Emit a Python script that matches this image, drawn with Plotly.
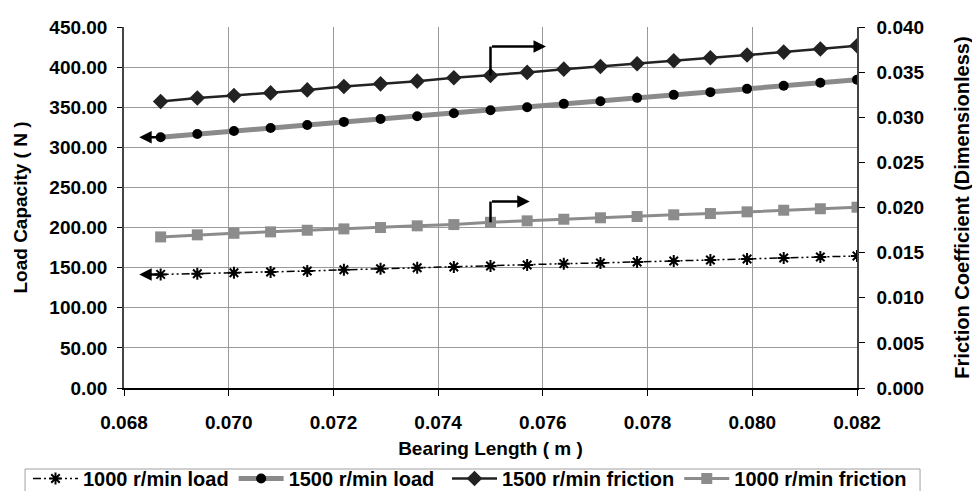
import plotly.graph_objects as go

# ---- data ----
bearing_length = [0.0687, 0.0694, 0.0701, 0.0708, 0.0715, 0.0722, 0.0729, 0.0736, 0.0743, 0.0750,
                  0.0757, 0.0764, 0.0771, 0.0778, 0.0785, 0.0792, 0.0799, 0.0806, 0.0813, 0.0820]
load_1000 = [141.6, 142.5, 143.7, 144.6, 145.8, 147.3, 148.7, 150.0, 150.8, 152.1,
             153.4, 155.0, 155.9, 157.1, 158.4, 159.6, 160.9, 162.1, 163.4, 164.6]
load_1500 = [312.5, 316.7, 320.4, 324.2, 327.9, 331.7, 335.4, 338.8, 342.5, 346.3,
             350.0, 354.2, 357.5, 361.7, 365.4, 368.8, 372.9, 376.7, 380.4, 384.2]
friction_1500 = [0.03174, 0.03214, 0.03241, 0.03270, 0.03303, 0.03341, 0.03370, 0.03400, 0.03437, 0.03463,
                 0.03497, 0.03533, 0.03563, 0.03592, 0.03626, 0.03659, 0.03689, 0.03722, 0.03756, 0.03792]
friction_1000 = [0.01674, 0.01697, 0.01714, 0.01730, 0.01748, 0.01763, 0.01778, 0.01797, 0.01811, 0.01836,
                 0.01852, 0.01870, 0.01886, 0.01900, 0.01919, 0.01933, 0.01952, 0.01970, 0.01986, 0.02003]

series_names = ["1000 r/min load", "1500 r/min load", "1500 r/min friction", "1000 r/min friction"]
x_title = "Bearing Length ( m )"
y_title = "Load Capacity ( N )"
y2_title = "Friction Coefficient (Dimensionless)"

FONT = "Liberation Sans, Arial, sans-serif"

fig = go.Figure()
fig.add_trace(go.Scatter(
    x=bearing_length, y=load_1000, name=series_names[0], mode="lines+markers",
    line=dict(color="black", width=1.5, dash="8px,3px,2px,3px,2px,3px"),
    marker=dict(symbol="asterisk-open", size=10, color="black", line=dict(color="black", width=2)),
    yaxis="y", legend="legend"))
fig.add_trace(go.Scatter(
    x=bearing_length, y=load_1500, name=series_names[1], mode="lines+markers",
    line=dict(color="#8a8a8a", width=5),
    marker=dict(symbol="circle", size=10, color="black"),
    yaxis="y", legend="legend"))
fig.add_trace(go.Scatter(
    x=bearing_length, y=friction_1500, name=series_names[2], mode="lines+markers",
    line=dict(color="#222222", width=2.5),
    marker=dict(symbol="diamond", size=12, color="#222222"),
    yaxis="y2", legend="legend2"))
fig.add_trace(go.Scatter(
    x=bearing_length, y=friction_1000, name=series_names[3], mode="lines+markers",
    line=dict(color="#8c8c8c", width=3),
    marker=dict(symbol="square", size=11, color="#8c8c8c"),
    yaxis="y2", legend="legend2"))

# ---- indicator arrows (anchored on data points) ----
idx = 9
shapes = []
annotations = []
for series, rise, run in [(friction_1500, 0.0032, 0.00106), (friction_1000, 0.0023, 0.00075)]:
    x0 = bearing_length[idx]
    y0 = series[idx]
    shapes.append(dict(type="line", xref="x", yref="y2", x0=x0, x1=x0, y0=y0, y1=y0 + rise,
                       line=dict(color="black", width=2.5)))
    annotations.append(dict(xref="x", yref="y2", axref="x", ayref="y2",
                            x=x0 + run, y=y0 + rise, ax=x0, ay=y0 + rise,
                            showarrow=True, arrowhead=2, arrowsize=1, arrowwidth=2.5,
                            arrowcolor="black", text=""))
for series in [load_1500, load_1000]:
    x0 = bearing_length[0]
    y0 = series[0]
    annotations.append(dict(xref="x", yref="y", axref="x", ayref="y",
                            x=x0 - 0.00041, y=y0, ax=x0, ay=y0,
                            showarrow=True, arrowhead=2, arrowsize=1, arrowwidth=2.5,
                            arrowcolor="black", text=""))

# legend frame (one box around both legend groups)
shapes.append(dict(type="rect", xref="paper", yref="paper",
                   x0=-0.135, x1=1.086, y0=-0.33, y1=-0.2244,
                   line=dict(color="#a0a0a0", width=1), fillcolor="rgba(0,0,0,0)", layer="below"))

grid = "#9a9a9a"
legend_common = dict(orientation="h", xref="container", yref="container", xanchor="left",
                     y=0.0815, yanchor="top", borderwidth=0, bgcolor="rgba(0,0,0,0)",
                     font=dict(size=20, weight="bold"), itemwidth=45, tracegroupgap=0)
fig.update_layout(
    width=980, height=491,
    margin=dict(l=116, r=131, t=19, b=111, autoexpand=False),
    paper_bgcolor="white", plot_bgcolor="white",
    font=dict(family=FONT, size=19, color="black", weight="bold"),
    showlegend=True,
    legend=dict(x=20 / 980, **legend_common),
    legend2=dict(x=439 / 980, **legend_common),
    xaxis=dict(range=[0.068, 0.082], dtick=0.002, tick0=0.068, tickformat=".3f",
               showgrid=True, gridcolor=grid, gridwidth=1,
               showline=True, linecolor="black", linewidth=1.5,
               ticks="outside", ticklen=6, tickcolor="black", ticklabelstandoff=10,
               title=dict(text=x_title, font=dict(size=19, weight="bold"), standoff=14),
               zeroline=False),
    yaxis=dict(range=[0, 450], dtick=50, tickformat=".2f",
               showgrid=True, gridcolor=grid, gridwidth=1,
               showline=True, linecolor="#444444", linewidth=1.5,
               ticks="outside", ticklen=5, tickcolor="black", ticklabelstandoff=6,
               title=dict(text=y_title, font=dict(size=19, weight="bold"), standoff=17),
               zeroline=False),
    yaxis2=dict(range=[0, 0.04], dtick=0.005, tickformat=".3f", overlaying="y", side="right",
                showgrid=False, showline=True, linecolor="#444444", linewidth=1.5,
                ticks="outside", ticklen=6, tickcolor="black", ticklabelstandoff=8,
                title=dict(text=y2_title, font=dict(size=20, weight="bold"), standoff=31),
                zeroline=False),
    yaxis3=dict(range=[0, 0.04], dtick=0.005, overlaying="y", side="right",
                showgrid=False, showline=False, showticklabels=False,
                ticks="inside", ticklen=6, tickcolor="black", zeroline=False),
    shapes=shapes,
    annotations=annotations,
)

fig.write_html("out.html")
